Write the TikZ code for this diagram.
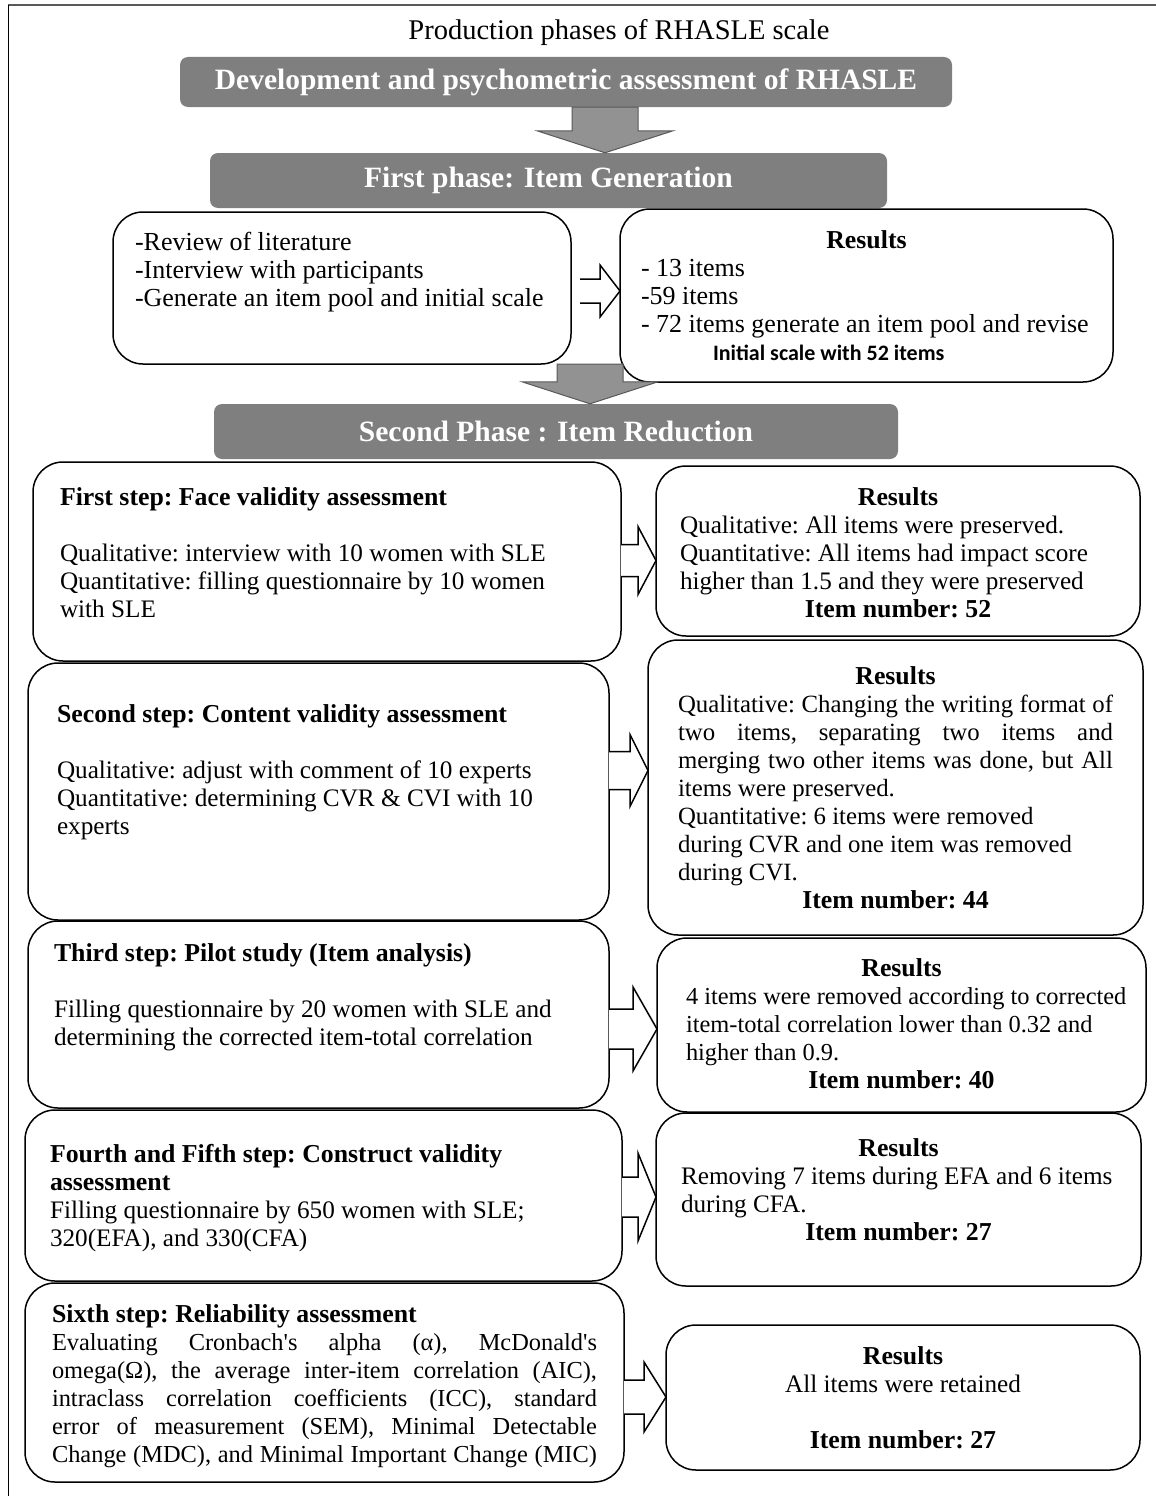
\documentclass[tikz,border=0pt]{standalone}
\usepackage{fontspec}
\setmainfont{Liberation Serif}[Ligatures=TeXOff]
\newfontfamily\calibrifont{Carlito}
\usetikzlibrary{calc}

\definecolor{phasegray}{HTML}{7F7F7F}
\definecolor{arrowedge}{HTML}{595959}

\newcommand{\rhsize}[1]{\fontsize{#1}{28}\selectfont\frenchspacing}
\newcommand{\rhbody}{\rhsize{25.2}}
\newcommand{\rhhead}{\fontsize{29.5}{34}\selectfont\bfseries}
\newcommand{\rhbf}[1]{{\fontsize{25.8}{28}\selectfont\bfseries #1}}
% one line of a box: left, centred, justified
\newcommand{\txtline}[1]{\leavevmode\hbox to\linewidth{#1\hss}}
\newcommand{\resline}[1]{\leavevmode\hbox to\linewidth{\hss#1\hss}}
\newcommand{\jline}[1]{\leavevmode\hbox to\linewidth{#1}}

% grey block arrow between two phase bars
\newcommand{\phasearrow}[3]{%
  \draw[downblock] let \p1=([xshift=#3]#1.south), \p2=(#2.north) in
    (\x1-33pt,\y1) -- (\x1-33pt,\y2+22pt) -- (\x1-68pt,\y2+22pt) -- (\x1,\y2)
    -- (\x1+68pt,\y2+22pt) -- (\x1+33pt,\y2+22pt) -- (\x1+33pt,\y1) -- cycle;}
% white block arrow from a step to its results
\newcommand{\sidearrow}[6]{%
  \draw[sideblock] let \p1=([#3]#1.east), \p2=(#2.west) in
    (\x1,\y1+#4) -- (\x2-#6,\y1+#4) -- (\x2-#6,\y1+#5) -- (\x2,\y1)
    -- (\x2-#6,\y1-#5) -- (\x2-#6,\y1-#4) -- (\x1,\y1-#4);}

\tikzset{
  phasebar/.style={fill=phasegray, rounded corners=8pt, text=white, font=\rhhead, inner sep=0pt},
  stepbox/.style={draw, line width=1.5pt, rounded corners=30pt, fill=white, anchor=north west,
    inner ysep=0pt, outer sep=0pt, align=flush left, font=\rhbody},
  sideblock/.style={draw, line width=1.5pt, fill=white, line join=miter},
  downblock/.style={draw=arrowedge, line width=1pt, fill=phasegray!85!white},
}

\begin{document}
\begin{tikzpicture}[x=1pt,y=-1pt]
\useasboundingbox (0,0) rectangle (1156,1496);
\draw[arrowedge, line width=2pt] (8,5) -- (1156,5);
\draw[line width=1pt] (8,5) -- (8,1496);

\node[font=\fontsize{28.5}{32}\selectfont] (title) at (619,33) {Production phases of RHASLE scale};

% phase bars
\node[phasebar, minimum width=772pt, minimum height=50pt] (h0) at (566,82) {Development and psychometric assessment of RHASLE};
\node[phasebar, minimum width=677pt, minimum height=55pt] (h1) at (548.5,180.5) {First phase: Item Generation};
\node[phasebar, minimum width=684pt, minimum height=55pt] (h2) at (556,431.5) {Second Phase : Item Reduction};

% first phase
\node[stepbox, font=\rhsize{26}, inner xsep=22pt, text width=414pt, text height=38pt, text depth=114pt] (p1) at (113,212)
  {\txtline{-Review of literature}\\\txtline{-Interview with participants}\\
   \txtline{-Generate an item pool and initial scale}};
\node[stepbox, font=\rhsize{26}, inner xsep=21pt, text width=451pt, text height=39pt, text depth=134pt] (p2) at (620,209)
  {\resline{\rhbf{Results}}\\\txtline{- 13 items}\\\txtline{-59 items}\\
   \txtline{- 72 items generate an item pool and revise}\\
   \txtline{\hspace*{72pt}\calibrifont\bfseries\fontsize{22}{28}\selectfont Initial scale with 52 items}};

% second phase, steps
\node[stepbox, inner xsep=27pt, text width=534pt, text height=43pt, text depth=156pt] (s1) at (33,462)
  {\txtline{\rhbf{First step: Face validity assessment}}\\[28pt]
   \txtline{Qualitative: interview with 10 women with SLE}\\
   \txtline{Quantitative: filling questionnaire by 10 women}\\\txtline{with SLE}};
\node[stepbox, inner xsep=29pt, text width=523pt, text height=59pt, text depth=198pt] (s2) at (28,663)
  {\txtline{\rhbf{Second step: Content validity assessment}}\\[28pt]
   \txtline{Qualitative: adjust with comment of 10 experts}\\
   \txtline{Quantitative: determining CVR \& CVI with 10}\\\txtline{experts}};
\node[stepbox, inner xsep=26pt, text width=529pt, text height=40pt, text depth=147pt] (s3) at (28,921)
  {\txtline{\rhbf{Third step: Pilot study (Item analysis)}}\\[28pt]
   \txtline{Filling questionnaire by 20 women with SLE and}\\
   \txtline{determining the corrected item-total correlation}};
\node[stepbox, inner xsep=25pt, text width=547pt, text height=52pt, text depth=119pt] (s4) at (25,1110)
  {\txtline{\rhbf{Fourth and Fifth step: Construct validity}}\\\txtline{\rhbf{assessment}}\\
   \txtline{Filling questionnaire by 650 women with SLE;}\\\txtline{320(EFA), and 330(CFA)}};
\node[stepbox, font=\rhsize{24.4}, inner xsep=27pt, text width=545pt, text height=39pt, text depth=160pt] (s5) at (25,1283)
  {\txtline{\rhbf{Sixth step: Reliability assessment}}\\
   \jline{Evaluating Cronbach's alpha (α), McDonald's}\\
   \jline{omega(Ω), the average inter-item correlation (AIC),}\\
   \jline{intraclass correlation coefficients (ICC), standard}\\
   \jline{error of measurement (SEM), Minimal Detectable}\\
   \jline{Change (MDC), and Minimal Important Change (MIC)}};

% results
\node[stepbox, inner xsep=24pt, text width=436pt, text height=39pt, text depth=131pt] (r1) at (656,466)
  {\resline{\rhbf{Results}}\\\txtline{Qualitative: All items were preserved.}\\
   \txtline{Quantitative: All items had impact score}\\
   \txtline{higher than 1.5 and they were preserved}\\\resline{\rhbf{Item number: 52}}};
\node[stepbox, font=\rhsize{24.8}, inner xsep=30pt, text width=435pt, text height=44pt, text depth=251pt] (r2) at (648,640)
  {\resline{\rhbf{Results}}\\\jline{Qualitative: Changing the writing format of}\\
   \jline{two items, separating two items and}\\
   \jline{merging two other items was done, but All}\\\txtline{items were preserved.}\\
   \txtline{Quantitative: 6 items were removed}\\\txtline{during CVR and one item was removed}\\
   \txtline{during CVI.}\\\resline{\rhbf{Item number: 44}}};
\node[stepbox, font=\rhsize{24.4}, inner xsep=29pt, text width=431pt, text height=38pt, text depth=136pt] (r3) at (657,938)
  {\resline{\rhbf{Results}}\\\txtline{4 items were removed according to corrected}\\
   \txtline{item-total correlation lower than 0.32 and}\\
   \txtline{higher than 0.9.}\\\resline{\rhbf{Item number: 40}}};
\node[stepbox, inner xsep=25pt, text width=435pt, text height=43pt, text depth=130pt] (r4) at (656,1113)
  {\resline{\rhbf{Results}}\\\txtline{Removing 7 items during EFA and 6 items}\\
   \txtline{during CFA.}\\\resline{\rhbf{Item number: 27}}};
\node[stepbox, inner xsep=24pt, text width=426pt, text height=39pt, text depth=106pt] (r5) at (666,1325)
  {\resline{\rhbf{Results}}\\\resline{All items were retained}\\[28pt]\resline{\rhbf{Item number: 27}}};

% arrows
\phasearrow{h0}{h1}{39pt}
\phasearrow{p1}{h2}{248pt}
\sidearrow{p1}{p2}{yshift=-3pt,xshift=9pt}{12pt}{26pt}{20pt}
\sidearrow{s1}{r1}{yshift=1pt}{16pt}{34pt}{18pt}
\sidearrow{s2}{r2}{yshift=21pt}{19pt}{36pt}{18pt}
\sidearrow{s3}{r3}{yshift=-14.5pt}{20pt}{42pt}{24pt}
\sidearrow{s4}{r4}{yshift=-1.5pt}{20pt}{44pt}{18pt}
\sidearrow{s5}{r5}{yshift=-14.5pt}{17pt}{35pt}{22pt}
\end{tikzpicture}
\end{document}
